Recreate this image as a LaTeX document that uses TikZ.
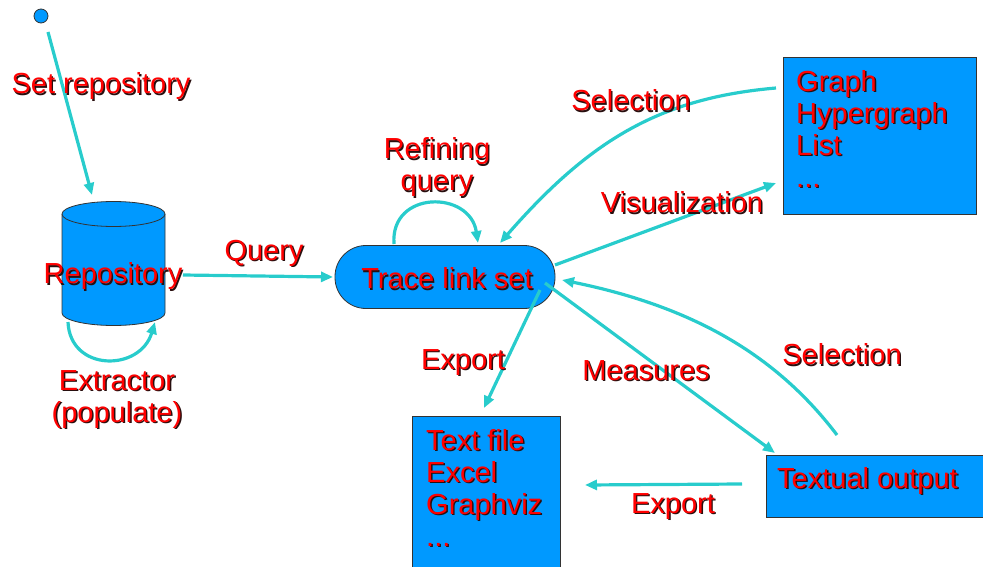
\documentclass[tikz,border=0pt]{standalone}
\usepackage{fontspec}
\setmainfont{Liberation Sans}
\usetikzlibrary{arrows.meta}
\definecolor{fillblue}{RGB}{0,153,255}
\definecolor{linkc}{RGB}{40,204,204}
\definecolor{labred}{RGB}{255,0,0}
\definecolor{shade}{RGB}{40,15,15}
% red label text with a dark drop shadow
\newcommand{\sh}[1]{\leavevmode\rlap{\kern1.4pt\raisebox{-1.4pt}{\textcolor{shade}{#1}}}\textcolor{labred}{#1}}
\begin{document}
\begin{tikzpicture}[x=1pt,y=-1pt,
  font=\fontsize{29}{32}\selectfont,
  link/.style={draw=linkc, line width=3.2pt, -{Triangle[length=12pt,width=10pt]}},
  box/.style={draw=black!80, fill=fillblue, line width=0.8pt, inner sep=0pt},
  lab/.style={inner sep=0pt, align=center},
  listtext/.style={inner sep=0pt, align=left, anchor=north west}]
\useasboundingbox (0,0) rectangle (983,567);
\clip (0,0) rectangle (983,567);

% start point
\node[circle, draw=black!80, fill=fillblue, line width=0.8pt, minimum size=14pt, inner sep=0pt] (start) at (41,16) {};

% repository cylinder
\fill[fillblue] (62,214) -- (62,313) arc[start angle=180, end angle=360, x radius=51.5pt, y radius=12.5pt] -- (165,214) -- cycle;
\draw[black!80, line width=0.8pt] (62,214) -- (62,313) arc[start angle=180, end angle=360, x radius=51.5pt, y radius=12.5pt] -- (165,214);
\draw[black!80, fill=fillblue, line width=0.8pt] (113.5,214) ellipse[x radius=51.5pt, y radius=12.5pt];

% trace link set
\node[box, rounded corners=31pt, minimum width=220pt, minimum height=63pt] (tls) at (445,277) {};

% output boxes
\node[box, anchor=north west, minimum width=193pt, minimum height=157pt] (gbox) at (783,57) {};
\node[box, anchor=north west, minimum width=148pt, minimum height=170pt] (fbox) at (412,416) {};
\node[box, anchor=north west, minimum width=240pt, minimum height=62pt] (tbox) at (766,455) {};

% connector end points
\coordinate (c0) at (48,32);
\coordinate (repin) at (92,195);
\coordinate (repout) at (183,275);
\coordinate (tlsin) at (333,277);
\coordinate (exs) at (68,322);
\coordinate (exe) at (155,322);
\coordinate (rfs) at (394,244);
\coordinate (rfe) at (478,243);
\coordinate (gsel) at (776,88);
\coordinate (tsel1) at (500,243);
\coordinate (tvis) at (555,265);
\coordinate (gvis) at (776,183);
\coordinate (texp) at (540,290);
\coordinate (fexp) at (484,408);
\coordinate (tmea) at (545,283);
\coordinate (omea) at (775,453);
\coordinate (osel) at (837,435);
\coordinate (tsel2) at (562,280);
\coordinate (oexp) at (742,484);
\coordinate (fexp2) at (585,485);

% connectors
\draw[link] (c0) -- (repin);
\draw[link] (repout) -- (tlsin);
\draw[link] (exs) .. controls (70,372) and (140,372) .. (exe);
\draw[link] (rfs) .. controls (390,190) and (470,190) .. (rfe);
\draw[link] (gsel) .. controls (660,98) and (590,140) .. (tsel1);
\draw[link] (tvis) -- (gvis);
\draw[link] (texp) -- (fexp);
\draw[link] (tmea) -- (omea);
\draw[link] (osel) .. controls (780,360) and (700,308) .. (tsel2);
\draw[link] (oexp) -- (fexp2);

% texts
\node[lab] (tlstext) at (447,279) {\sh{Trace link set}};
\node[lab] (repo) at (113,277) {\sh{Repository}};
\node[listtext] (gtext) at (796,70) {\sh{Graph}\\\sh{Hypergraph}\\\sh{List}\\\sh{...}};
\node[listtext] (ftext) at (426,429) {\sh{Text file}\\\sh{Excel}\\\sh{Graphviz}\\\sh{...}};
\node[lab, anchor=base west] (ttext) at (777,488) {\sh{Textual output}};

% connector labels
\node[lab] (lsetrep) at (101,87) {\sh{Set repository}};
\node[lab] (lquery) at (264,254) {\sh{Query}};
\node[lab] (lextr) at (117,400) {\sh{Extractor}\\\sh{(populate)}};
\node[lab] (lref) at (437,168) {\sh{Refining}\\\sh{query}};
\node[lab] (lsel1) at (631,101) {\sh{Selection}};
\node[lab] (lvis) at (682,203) {\sh{Visualization}};
\node[lab] (lexp1) at (463,363) {\sh{Export}};
\node[lab] (lmea) at (646,371) {\sh{Measures}};
\node[lab] (lsel2) at (842,355) {\sh{Selection}};
\node[lab] (lexp2) at (673,507) {\sh{Export}};
\end{tikzpicture}
\end{document}
